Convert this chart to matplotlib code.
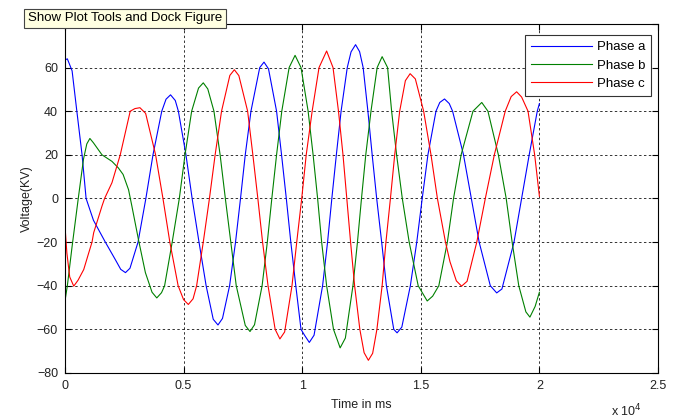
import matplotlib
matplotlib.use("Agg")
import matplotlib.pyplot as plt

# points: (time in thousands of ms, voltage in kV)
phase_a = [(0, 63.5), (0.1, 64), (0.3, 58.5), (0.5, 40), (0.72, 20), (0.89, 0), (1.2, -10),
           (1.7, -20), (2.12, -28), (2.35, -32.5), (2.55, -34), (2.74, -32), (3.08, -20),
           (3.41, 0), (3.71, 20), (4.08, 40), (4.26, 45.5), (4.45, 47.5), (4.65, 44.9),
           (4.78, 40), (5.1, 20), (5.36, 0), (5.65, -20), (5.95, -40), (6.25, -55.4),
           (6.45, -58), (6.64, -55), (6.94, -40), (7.19, -20), (7.4, 0), (7.6, 20), (7.84, 40),
           (8.21, 60), (8.39, 62.5), (8.58, 59.4), (8.92, 40), (9.13, 20), (9.33, 0),
           (9.52, -20), (9.73, -40), (9.95, -60), (10.11, -62.9), (10.3, -66), (10.5, -62.7),
           (10.86, -40), (11.07, -20), (11.25, 0), (11.44, 20), (11.64, 40), (11.9, 60),
           (12.06, 67.2), (12.25, 70.5), (12.42, 67.3), (12.57, 60), (12.77, 40), (12.95, 20),
           (13.14, 0), (13.35, -20), (13.55, -40), (13.86, -60), (14.0, -61.6), (14.2, -59),
           (14.56, -40), (14.83, -20), (15.06, 0), (15.3, 20), (15.64, 40), (15.8, 44),
           (16.0, 45.6), (16.2, 43.5), (16.34, 40), (16.8, 20), (17.13, 0), (17.46, -20),
           (17.93, -40), (18.2, -43.3), (18.42, -41.5), (18.93, -20), (19.25, 0), (19.57, 20),
           (19.91, 40), (20.0, 43.5)]

phase_b = [(0, -47), (0.1, -40), (0.3, -22), (0.56, 0), (0.78, 18), (0.92, 25), (1.05, 27.5),
           (1.2, 25.5), (1.56, 20), (1.98, 17), (2.25, 14), (2.45, 11), (2.68, 4), (2.82, -3.5),
           (3.1, -19), (3.39, -34), (3.67, -43), (3.87, -45.6), (4.07, -43.2), (4.2, -40),
           (4.52, -20), (4.82, 0), (5.06, 20), (5.34, 40), (5.63, 50.6), (5.83, 53),
           (6.02, 50.2), (6.28, 40), (6.54, 20), (6.76, 0), (6.99, -20), (7.22, -40),
           (7.6, -58.2), (7.8, -61), (7.99, -57.9), (8.31, -40), (8.53, -20), (8.72, 0),
           (8.92, 20), (9.14, 40), (9.45, 60), (9.7, 65.6), (9.95, 60), (10.25, 40),
           (10.46, 20), (10.65, 0), (10.82, -20), (11.03, -40), (11.32, -60), (11.6, -68.5),
           (11.82, -64), (12.14, -40), (12.33, -20), (12.5, 0), (12.68, 20), (12.9, 40),
           (13.16, 60), (13.37, 65), (13.6, 60), (13.77, 40), (13.98, 20), (14.22, 0),
           (14.51, -20), (14.89, -40), (15.27, -47), (15.5, -44.8), (15.76, -40), (16.12, -20),
           (16.38, 0), (16.7, 20), (17.2, 40), (17.57, 44), (17.83, 40), (18.27, 20),
           (18.6, 0), (18.85, -20), (19.13, -40), (19.43, -52), (19.6, -54.4), (19.82, -49.5),
           (20.0, -43)]

phase_c = [(0, -12.7), (0.08, -25), (0.2, -36), (0.37, -40.2), (0.55, -37.5), (0.79, -32.6),
           (1.0, -25), (1.14, -20), (1.21, -15.7), (1.56, -3.5), (1.67, 0), (1.98, 7.2),
           (2.33, 20), (2.75, 40), (2.95, 41.2), (3.16, 41.6), (3.4, 39), (3.82, 20), (4.13, 0),
           (4.42, -20), (4.77, -40), (5.0, -46.4), (5.2, -48.6), (5.4, -46), (5.55, -40),
           (5.83, -20), (6.09, 0), (6.33, 20), (6.6, 40), (6.95, 56.4), (7.14, 59),
           (7.33, 56.3), (7.7, 40), (7.92, 20), (8.13, 0), (8.33, -20), (8.56, -40),
           (8.86, -60), (9.06, -64.4), (9.26, -61.2), (9.57, -40), (9.77, -20), (9.98, 0),
           (10.17, 20), (10.42, 40), (10.71, 60), (11.03, 67.6), (11.3, 60), (11.53, 40),
           (11.72, 20), (11.88, 0), (12.04, -20), (12.21, -40), (12.43, -60), (12.61, -70.7),
           (12.79, -74.2), (12.97, -71), (13.15, -60), (13.37, -40), (13.53, -20), (13.72, 0),
           (13.9, 20), (14.11, 40), (14.35, 54), (14.55, 57.2), (14.77, 54.8), (15.12, 40),
           (15.43, 20), (15.7, 0), (16.04, -20), (16.23, -29), (16.5, -37.8), (16.72, -40.2),
           (16.95, -38), (17.36, -20), (17.72, 0), (18.1, 20), (18.56, 40), (18.81, 46.7),
           (19.04, 48.9), (19.25, 46.5), (19.52, 40), (19.8, 20), (20.0, 1)]

series_names = ["Phase a", "Phase b", "Phase c"]
series_colors = ["#0000ff", "#008000", "#ff0000"]

x_ticks = [0, 5000, 10000, 15000, 20000, 25000]
x_tick_labels = ["0", "0.5", "1", "1.5", "2", "2.5"]
y_ticks = [-80, -60, -40, -20, 0, 20, 40, 60, 80]

plt.rcParams["font.family"] = ["Liberation Sans", "DejaVu Sans"]

fig = plt.figure(figsize=(6.84, 4.2), dpi=100)
ax = fig.add_axes([0.095, 0.112, 0.867, 0.831])

for pts, name, color in zip([phase_a, phase_b, phase_c], series_names, series_colors):
    t = [p[0] * 1000 for p in pts]
    v = [p[1] for p in pts]
    ax.plot(t, v, color=color, lw=0.8, label=name, solid_joinstyle="round")

ax.set_xlim(0, 25000)
ax.set_ylim(-80, 80)
ax.set_xticks(x_ticks)
ax.set_xticklabels(x_tick_labels)
ax.set_yticks(y_ticks)
ax.tick_params(direction="in", length=4, labelsize=9, top=True, right=True, pad=5,
               labelcolor="#222222")
ax.grid(True, color="black", linestyle=(0, (2.5, 2.5)), lw=0.7, alpha=0.8)
for s in ax.spines.values():
    s.set_linewidth(0.8)

ax.set_xlabel("Time in ms", fontsize=9, labelpad=5, color="#222222")
ax.set_ylabel("Voltage(KV)", fontsize=9, labelpad=3, color="#222222")
ax.text(0.972, -0.085, "x 10$^4$", transform=ax.transAxes, ha="right", va="top", fontsize=9,
        color="#222222")

leg = ax.legend(loc="upper right", bbox_to_anchor=(0.993, 0.975), fontsize=9.5,
                frameon=True, fancybox=False, borderpad=0.45, labelspacing=0.45,
                handlelength=4.6, handletextpad=0.4, borderaxespad=0.2)
leg.get_frame().set_edgecolor("#333333")
leg.get_frame().set_linewidth(0.8)
leg.get_frame().set_alpha(1)

# MATLAB toolbar tooltip left over in the screenshot, drawn over the top tick label
fig.text(0.041, 0.956, "Show Plot Tools and Dock Figure", fontsize=9.5, ha="left", va="center",
         bbox=dict(boxstyle="square,pad=0.3", facecolor="#ffffe1", edgecolor="#444444", lw=0.8),
         zorder=10)

fig.savefig("out.png", dpi=100)
